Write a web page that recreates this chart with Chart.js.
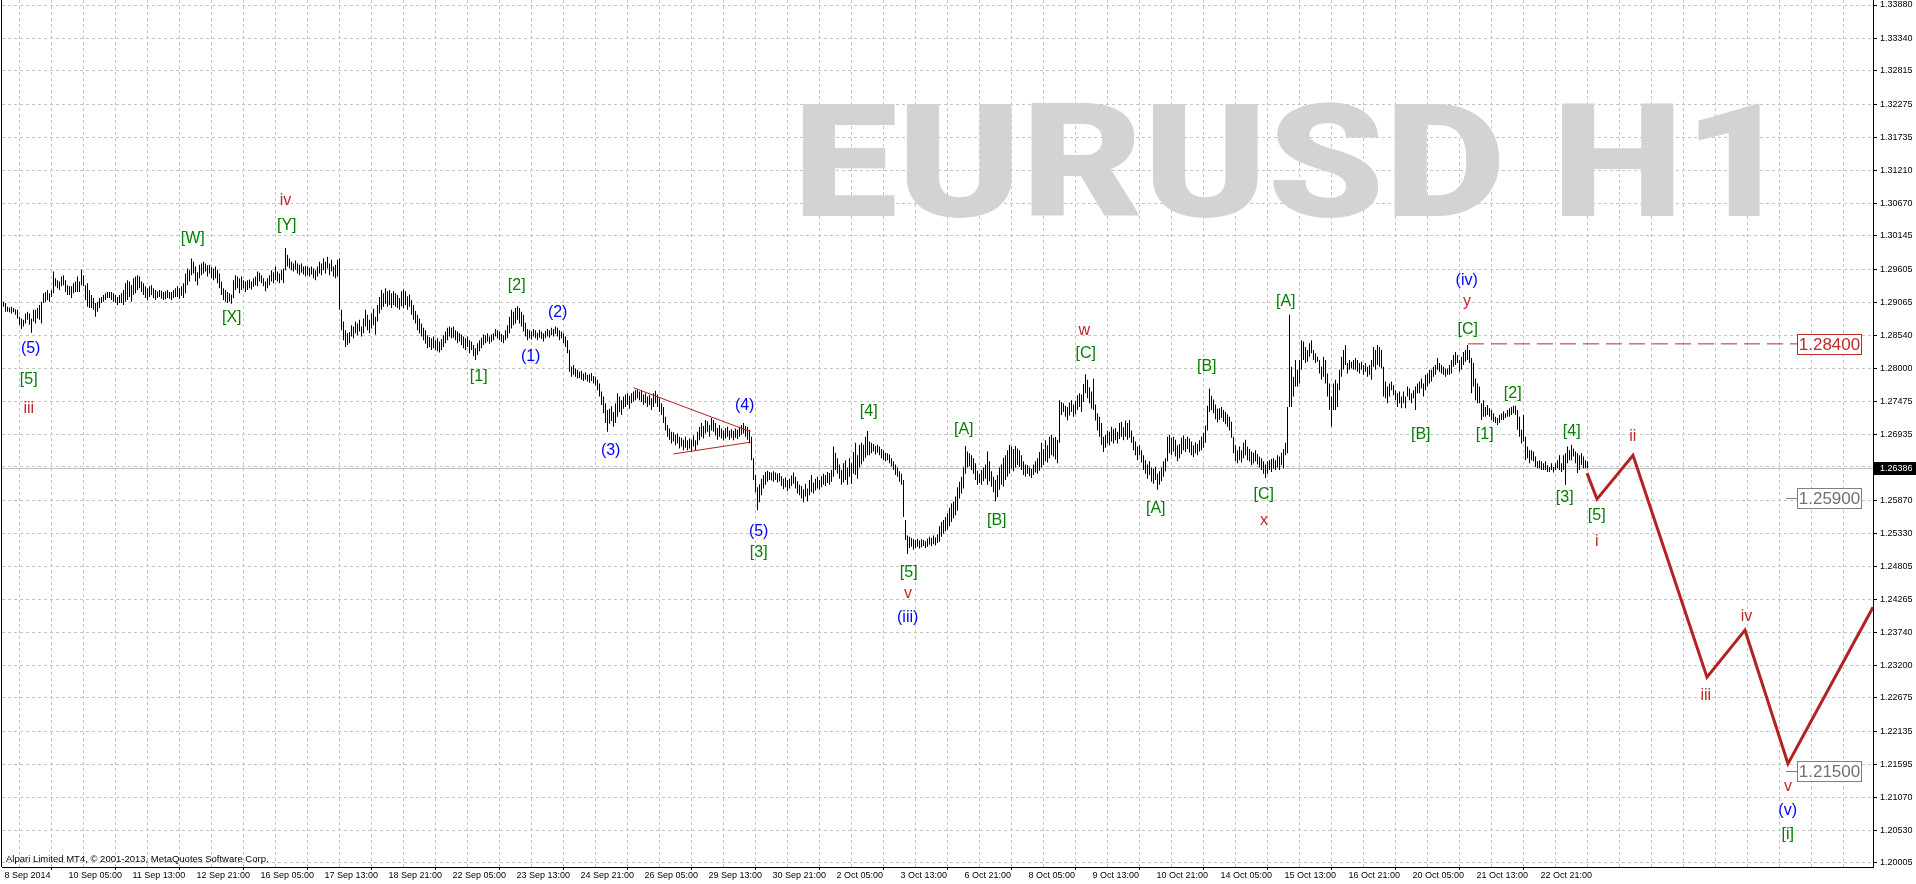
<!DOCTYPE html>
<html><head><meta charset="utf-8">
<script src="https://cdn.jsdelivr.net/npm/chart.js@4.4.1/dist/chart.umd.min.js"></script>
<style>html,body{margin:0;padding:0;background:#fff;overflow:hidden}canvas{display:block}</style>
</head><body>
<canvas id="c" width="1916" height="884"></canvas>
<script>
// ---------- DATA (EURUSD H1, prices in pips = price*10000) ----------
const barLowPips = [
12900,12892,12892,12891,12889,12891,12887,12881,12871,12864,
12868,12873,12879,12871,12858,12876,12873,12881,12879,12873,
12906,12908,12911,12908,12916,12922,12933,12930,12927,12933,
12935,12924,12919,12919,12914,12922,12924,12924,12924,12935,
12933,12911,12900,12898,12898,12895,12884,12892,12898,12906,
12908,12911,12914,12914,12911,12908,12906,12903,12906,12906,
12903,12908,12911,12916,12908,12919,12922,12927,12930,12924,
12919,12914,12911,12916,12919,12914,12911,12914,12916,12913,
12911,12912,12914,12913,12911,12914,12916,12916,12913,12918,
12914,12922,12935,12941,12951,12954,12941,12935,12946,12951,
12954,12957,12949,12954,12946,12943,12946,12938,12930,12919,
12911,12908,12906,12908,12905,12914,12927,12930,12922,12927,
12930,12924,12927,12930,12928,12932,12935,12933,12941,12938,
12933,12925,12930,12935,12941,12938,12943,12941,12938,12943,
12938,12959,12965,12962,12959,12957,12960,12954,12951,12955,
12952,12949,12951,12949,12952,12946,12943,12949,12954,12951,
12959,12954,12962,12951,12957,12949,12946,12949,12895,12862,
12846,12835,12838,12841,12852,12849,12857,12854,12860,12852,
12857,12868,12862,12857,12865,12870,12855,12876,12889,12895,
12900,12905,12900,12903,12898,12903,12900,12898,12895,12901,
12898,12903,12895,12900,12887,12879,12873,12862,12857,12852,
12846,12840,12833,12835,12830,12833,12830,12828,12826,12830,
12835,12841,12846,12852,12849,12850,12846,12841,12844,12838,
12833,12830,12835,12825,12830,12820,12814,12822,12828,12833,
12838,12841,12844,12840,12843,12846,12852,12849,12846,12843,
12841,12846,12849,12857,12865,12870,12873,12879,12873,12868,
12860,12852,12846,12849,12847,12852,12849,12846,12850,12848,
12844,12849,12852,12850,12854,12852,12856,12852,12846,12849,
12841,12835,12825,12795,12787,12790,12787,12784,12785,12782,
12780,12782,12779,12777,12780,12776,12773,12765,12755,12741,
12728,12712,12698,12711,12715,12706,12712,12722,12730,12725,
12735,12738,12741,12735,12744,12747,12749,12752,12749,12746,
12741,12744,12738,12741,12733,12738,12744,12738,12730,12725,
12712,12700,12690,12685,12679,12682,12676,12679,12671,12674,
12668,12672,12668,12671,12666,12674,12668,12676,12684,12690,
12687,12695,12698,12690,12700,12698,12692,12685,12690,12687,
12684,12687,12690,12685,12688,12684,12688,12686,12690,12693,
12695,12690,12685,12679,12652,12620,12600,12571,12584,12595,
12606,12612,12617,12620,12619,12617,12620,12616,12618,12610,
12605,12608,12602,12606,12610,12614,12606,12598,12595,12590,
12584,12593,12585,12595,12600,12598,12603,12606,12604,12608,
12612,12610,12615,12612,12617,12625,12636,12630,12622,12612,
12616,12620,12612,12625,12614,12630,12628,12622,12640,12645,
12650,12656,12660,12660,12663,12666,12661,12664,12660,12655,
12652,12650,12652,12647,12642,12636,12628,12625,12617,12612,
12560,12523,12500,12510,12512,12507,12510,12512,12509,12511,
12513,12510,12512,12515,12513,12516,12514,12518,12520,12528,
12533,12537,12540,12545,12552,12558,12563,12570,12590,12598,
12606,12630,12640,12642,12636,12630,12620,12612,12615,12612,
12618,12622,12612,12618,12609,12600,12585,12592,12604,12612,
12609,12620,12625,12630,12638,12634,12640,12644,12641,12636,
12628,12625,12630,12626,12623,12628,12632,12630,12635,12640,
12644,12650,12648,12655,12660,12658,12653,12647,12680,12725,
12730,12722,12716,12724,12730,12722,12726,12733,12738,12730,
12746,12760,12752,12744,12735,12733,12716,12700,12690,12677,
12665,12672,12679,12676,12682,12679,12684,12679,12686,12690,
12684,12690,12685,12688,12680,12668,12660,12652,12660,12648,
12636,12630,12622,12628,12617,12614,12620,12604,12612,12618,
12625,12634,12650,12663,12660,12666,12658,12650,12655,12662,
12668,12665,12670,12664,12660,12657,12663,12660,12666,12668,
12672,12680,12700,12730,12733,12728,12718,12713,12717,12720,
12714,12710,12706,12700,12688,12663,12650,12647,12652,12648,
12655,12660,12652,12650,12644,12647,12650,12645,12640,12636,
12630,12623,12630,12636,12633,12638,12636,12640,12636,12644,
12639,12660,12663,12738,12738,12755,12771,12771,12776,12798,
12814,12809,12811,12819,12825,12814,12809,12811,12792,12782,
12787,12776,12755,12733,12706,12733,12733,12738,12765,12787,
12798,12806,12792,12798,12800,12798,12798,12795,12792,12798,
12790,12795,12787,12790,12782,12803,12798,12806,12803,12800,
12755,12752,12744,12755,12765,12757,12749,12738,12744,12736,
12744,12736,12755,12749,12744,12752,12733,12760,12760,12768,
12755,12765,12771,12776,12779,12787,12790,12798,12795,12792,
12790,12787,12790,12790,12792,12803,12806,12809,12795,12798,
12806,12811,12814,12809,12760,12771,12749,12744,12744,12717,
12722,12722,12725,12722,12717,12714,12712,12709,12712,12717,
12717,12720,12722,12722,12725,12728,12725,12701,12690,12679,
12682,12652,12655,12647,12652,12650,12641,12639,12639,12636,
12636,12636,12633,12633,12636,12632,12636,12639,12636,12633,
12636,12612,12647,12652,12652,12658,12647,12631,12636,12644,
12639,12639,12639
];
const barHighPips = [
12908,12906,12900,12899,12900,12898,12896,12895,12884,12881,
12879,12889,12892,12889,12881,12895,12895,12898,12903,12908,
12922,12924,12927,12922,12927,12957,12946,12943,12941,12949,
12951,12943,12935,12933,12933,12938,12941,12949,12941,12960,
12951,12935,12938,12927,12919,12914,12906,12908,12914,12916,
12919,12922,12924,12924,12924,12922,12919,12916,12919,12922,
12927,12938,12943,12941,12935,12946,12949,12951,12949,12941,
12938,12933,12930,12933,12935,12930,12927,12925,12927,12926,
12924,12925,12927,12924,12924,12927,12930,12933,12930,12933,
12938,12954,12962,12959,12978,12973,12965,12956,12968,12970,
12973,12970,12967,12968,12964,12962,12965,12960,12954,12941,
12930,12927,12924,12922,12920,12943,12951,12949,12946,12949,
12943,12941,12943,12944,12941,12946,12949,12957,12955,12951,
12946,12941,12946,12951,12959,12956,12965,12957,12954,12960,
12962,12995,12984,12978,12973,12970,12975,12970,12968,12970,
12965,12966,12965,12963,12965,12962,12959,12965,12973,12970,
12978,12973,12981,12970,12976,12965,12968,12976,12978,12895,
12876,12862,12857,12859,12870,12868,12876,12873,12879,12868,
12881,12895,12887,12879,12889,12897,12884,12903,12916,12927,
12922,12930,12925,12927,12922,12925,12922,12919,12914,12925,
12928,12925,12917,12920,12911,12903,12893,12887,12881,12873,
12866,12862,12854,12851,12849,12852,12846,12849,12844,12848,
12854,12860,12866,12868,12866,12868,12862,12860,12857,12855,
12852,12849,12852,12846,12844,12838,12833,12841,12846,12850,
12855,12854,12857,12852,12855,12857,12864,12862,12860,12856,
12854,12862,12870,12884,12895,12892,12898,12901,12898,12892,
12887,12874,12864,12862,12860,12864,12862,12858,12863,12860,
12857,12861,12864,12862,12866,12864,12868,12866,12862,12860,
12857,12852,12846,12830,12803,12806,12800,12798,12795,12796,
12792,12794,12790,12791,12793,12788,12787,12782,12776,12763,
12755,12744,12733,12735,12739,12730,12744,12760,12755,12749,
12755,12758,12760,12756,12760,12763,12765,12767,12763,12765,
12758,12760,12755,12757,12752,12760,12764,12758,12752,12744,
12738,12722,12709,12703,12698,12697,12693,12695,12690,12688,
12685,12690,12684,12687,12685,12692,12684,12698,12706,12712,
12707,12717,12715,12709,12720,12717,12712,12704,12709,12703,
12700,12704,12706,12700,12702,12699,12703,12701,12706,12709,
12712,12707,12706,12701,12690,12655,12628,12608,12613,12622,
12628,12633,12635,12633,12632,12634,12632,12630,12631,12626,
12622,12624,12620,12622,12627,12632,12625,12618,12612,12610,
12605,12614,12606,12620,12628,12616,12622,12625,12620,12626,
12630,12628,12633,12631,12636,12674,12664,12655,12645,12636,
12647,12652,12640,12655,12647,12665,12680,12660,12677,12680,
12677,12690,12699,12682,12680,12678,12675,12677,12674,12670,
12668,12664,12663,12661,12655,12650,12645,12640,12634,12630,
12620,12555,12530,12528,12526,12524,12523,12525,12522,12524,
12523,12521,12525,12528,12526,12530,12527,12532,12545,12552,
12555,12560,12566,12575,12582,12585,12593,12608,12617,12625,
12640,12675,12666,12663,12660,12655,12647,12635,12630,12636,
12640,12645,12666,12650,12634,12625,12620,12628,12640,12645,
12656,12660,12668,12677,12674,12670,12675,12671,12668,12660,
12650,12645,12644,12640,12638,12645,12650,12655,12665,12680,
12670,12684,12676,12690,12693,12688,12690,12685,12749,12746,
12744,12740,12738,12745,12749,12742,12748,12757,12760,12758,
12775,12791,12782,12770,12763,12784,12742,12728,12722,12712,
12690,12693,12700,12698,12706,12702,12704,12698,12712,12714,
12705,12716,12712,12717,12700,12690,12682,12674,12676,12668,
12660,12652,12645,12650,12640,12638,12641,12630,12634,12640,
12650,12655,12690,12693,12688,12690,12685,12676,12678,12688,
12692,12686,12690,12687,12682,12676,12681,12678,12684,12690,
12696,12708,12740,12768,12756,12750,12742,12735,12736,12738,
12733,12730,12726,12722,12714,12690,12676,12668,12674,12668,
12680,12685,12674,12670,12666,12664,12668,12662,12658,12655,
12650,12645,12650,12652,12654,12655,12652,12660,12658,12664,
12670,12680,12738,12887,12803,12787,12814,12798,12814,12846,
12844,12835,12830,12841,12846,12830,12825,12819,12814,12803,
12819,12814,12792,12776,12755,12776,12782,12776,12798,12819,
12830,12838,12809,12814,12811,12814,12817,12814,12809,12811,
12806,12809,12803,12806,12814,12835,12830,12838,12835,12830,
12803,12779,12771,12776,12779,12773,12765,12760,12763,12755,
12763,12755,12771,12768,12760,12765,12771,12776,12779,12784,
12776,12790,12792,12798,12798,12803,12806,12817,12809,12806,
12803,12800,12800,12806,12814,12822,12827,12822,12814,12819,
12827,12830,12838,12830,12817,12809,12784,12776,12771,12744,
12749,12738,12741,12736,12733,12728,12722,12720,12725,12728,
12731,12728,12733,12736,12738,12740,12740,12733,12722,12701,
12725,12690,12674,12668,12668,12666,12658,12650,12652,12650,
12647,12650,12644,12641,12647,12641,12647,12652,12660,12647,
12660,12663,12674,12668,12677,12671,12666,12663,12660,12663,
12658,12652,12650
];
const xTickLabels = ['8 Sep 2014','10 Sep 05:00','11 Sep 13:00','12 Sep 21:00','16 Sep 05:00','17 Sep 13:00','18 Sep 21:00','22 Sep 05:00','23 Sep 13:00','24 Sep 21:00','26 Sep 05:00','29 Sep 13:00','30 Sep 21:00','2 Oct 05:00','3 Oct 13:00','6 Oct 21:00','8 Oct 05:00','9 Oct 13:00','10 Oct 21:00','14 Oct 05:00','15 Oct 13:00','16 Oct 21:00','20 Oct 05:00','21 Oct 13:00','22 Oct 21:00'];
const yTickValues = [1.33880,1.33340,1.32815,1.32275,1.31735,1.31210,1.30670,1.30145,1.29605,1.29065,1.28540,1.28000,1.27475,1.26935,1.26410,1.25870,1.25330,1.24805,1.24265,1.23740,1.23200,1.22675,1.22135,1.21595,1.21070,1.20530,1.20005];
const lastPrice = 1.26386;
// projected wave path (bar index, price)
const projBars   = [791.75, 796.75, 814.75, 851.75, 870.75, 892.25, 934.75];
const projPrices = [1.2631, 1.2589, 1.2660, 1.2301, 1.2377, 1.2161, 1.2414];
// triangle trend lines
const triUpperBars = [315, 373.5], triUpperPrices = [1.2769, 1.2698];
const triLowerBars = [335, 373.5], triLowerPrices = [1.2662, 1.2681];
// target level line
const targetBars = [732.25, 896.75], targetPrices = [1.28400, 1.28400];
// price boxes
const boxPrices = [1.28400, 1.25900, 1.21500];
const boxKinds  = ['r', 'g', 'g'];
// wave labels
const waveText  = ['(5)','[5]','iii','[W]','[X]','[Y]','iv','[1]','[2]','(1)','(2)','(3)','(4)','(5)','[3]','[4]','[5]','v','(iii)','[A]','[B]','w','[C]','[B]','[A]','[C]','x','[A]','(iv)','y','[C]','[B]','[1]','[2]','[3]','[4]','[5]','i','ii','iii','iv','v','(v)','[i]'];
const waveBar   = [13.75,12.75,12.75,94.75,114.25,141.75,141.25,237.75,256.75,263.75,277.25,303.75,370.75,377.75,377.75,432.75,452.75,452.25,452.25,480.25,496.75,540.25,541.25,601.75,576.25,630.25,630.25,641.25,731.75,731.75,732.25,708.75,740.75,754.75,780.75,784.25,796.75,796.75,814.75,851.25,871.75,892.25,892.25,892.25];
const wavePrice = [1.2833,1.2783,1.2738,1.3011,1.2882,1.3031,1.3074,1.2788,1.2934,1.2819,1.2890,1.2668,1.2740,1.2537,1.2503,1.2730,1.2471,1.2437,1.2398,1.2701,1.2555,1.2861,1.2824,1.2803,1.2573,1.2596,1.2554,1.2909,1.2943,1.2906,1.2864,1.2693,1.2693,1.2759,1.2592,1.2698,1.2563,1.2523,1.2693,1.2274,1.2402,1.2125,1.2086,1.2046];
const waveKind  = ['b','g','r','g','g','g','r','g','g','b','b','b','b','b','g','g','g','r','b','g','g','r','g','g','g','g','r','g','b','r','g','g','g','g','g','g','g','r','r','r','r','r','b','g'];

// ---------- STYLE ----------
const FONT = '"Liberation Sans", Arial, sans-serif';
const COLORS = {g: '#008000', b: '#0000FF', r: '#C0282D'};
const GRID = '#C4C4C4';
const LAYOUT = {left: 2, yAxisW: 43, xAxisH: 17};
const BOX = {anchorBar: 896.75, w: 65, h: 21, leader: 11, font: '17px ' + FONT,
  stroke: {r: '#C0282D', g: '#808080'}, text: {r: '#C0282D', g: '#707070'}};
const WATERMARK = {text: 'EURUSD H1', font: '900 200px Roboto, "Liberation Sans", sans-serif',
  left: 802, right: 1760, top: 101, bottom: 216, color: '#D3D3D3'};

const n = Math.min(barLowPips.length, barHighPips.length);
const bars = [];
for (let i = 0; i < n; i++) bars.push({x: i, y: [barLowPips[i] / 10000, barHighPips[i] / 10000]});
const pts = (bx, py) => bx.map((b, i) => ({x: b, y: py[i]}));

const decor = {
  id: 'decor',
  beforeDatasetsDraw(chart) {
    const {ctx, chartArea: a, scales: {x, y}} = chart;
    // watermark
    ctx.save();
    ctx.font = WATERMARK.font;
    const m = ctx.measureText(WATERMARK.text);
    const inkW = m.actualBoundingBoxLeft + m.actualBoundingBoxRight;
    const inkH = m.actualBoundingBoxAscent;
    ctx.translate(WATERMARK.left, WATERMARK.bottom);
    ctx.scale((WATERMARK.right - WATERMARK.left) / inkW, (WATERMARK.bottom - WATERMARK.top) / inkH);
    ctx.fillStyle = WATERMARK.color;
    ctx.textAlign = 'left'; ctx.textBaseline = 'alphabetic';
    ctx.fillText(WATERMARK.text, m.actualBoundingBoxLeft, 0);
    ctx.restore();
    // bid line
    ctx.save();
    const py = Math.round(y.getPixelForValue(lastPrice)) + 0.5;
    ctx.strokeStyle = '#C0C0C0'; ctx.lineWidth = 1;
    ctx.beginPath(); ctx.moveTo(a.left, py); ctx.lineTo(a.right, py); ctx.stroke();
    // copyright
    ctx.font = '9.5px ' + FONT; ctx.fillStyle = '#000';
    ctx.textAlign = 'left'; ctx.textBaseline = 'alphabetic';
    ctx.fillText('Alpari Limited MT4, \u00A9 2001-2013, MetaQuotes Software Corp.', a.left + 4, a.bottom - 5);
    ctx.restore();
  },
  afterDatasetsDraw(chart) {
    const {ctx, chartArea: a, scales: {x, y}} = chart;
    ctx.save();
    // wave labels, ink-centred on their anchors
    ctx.font = '16px ' + FONT; ctx.textAlign = 'left'; ctx.textBaseline = 'alphabetic';
    waveText.forEach((t, i) => {
      const m = ctx.measureText(t);
      const cx = x.getPixelForValue(waveBar[i]), cy = y.getPixelForValue(wavePrice[i]);
      ctx.fillStyle = COLORS[waveKind[i]];
      ctx.fillText(t, cx - (m.actualBoundingBoxRight - m.actualBoundingBoxLeft) / 2,
        cy + (m.actualBoundingBoxAscent - m.actualBoundingBoxDescent) / 2);
    });
    // price boxes
    boxPrices.forEach((v, i) => {
      const k = boxKinds[i];
      const py = Math.round(y.getPixelForValue(v));
      const bx = Math.round(x.getPixelForValue(BOX.anchorBar));
      ctx.lineWidth = 1; ctx.strokeStyle = BOX.stroke[k];
      if (k !== 'r') { ctx.beginPath(); ctx.moveTo(bx - BOX.leader, py + 0.5); ctx.lineTo(bx, py + 0.5); ctx.stroke(); }
      const top = py - Math.floor(BOX.h / 2);
      ctx.fillStyle = '#fff'; ctx.fillRect(bx, top, BOX.w, BOX.h);
      ctx.strokeRect(bx + 0.5, top + 0.5, BOX.w - 1, BOX.h - 1);
      ctx.font = BOX.font; ctx.fillStyle = BOX.text[k]; ctx.textAlign = 'center'; ctx.textBaseline = 'middle';
      ctx.fillText(v.toFixed(5), bx + BOX.w / 2, py + 1);
    });
    // left frame line
    ctx.fillStyle = '#000'; ctx.fillRect(a.left - 1, a.top, 1, a.bottom - a.top);
    ctx.restore();
  },
  afterDraw(chart) {
    const {ctx, chartArea: a, scales: {y}} = chart;
    ctx.save();
    const py = Math.round(y.getPixelForValue(lastPrice));
    ctx.fillStyle = '#000'; ctx.fillRect(a.right + 1, py - 6, chart.width - a.right - 1, 13);
    ctx.fillStyle = '#fff'; ctx.font = '9px ' + FONT; ctx.textAlign = 'left'; ctx.textBaseline = 'middle';
    ctx.fillText(lastPrice.toFixed(5), a.right + 7, py + 0.5);
    ctx.restore();
  }
};

Chart.defaults.font.family = FONT;
new Chart(document.getElementById('c'), {
  type: 'bar',
  data: {
    datasets: [
      {type: 'line', data: pts(projBars, projPrices), borderColor: '#B22222', borderWidth: 3, pointRadius: 0, tension: 0, borderJoinStyle: 'miter'},
      {type: 'line', data: pts(targetBars, targetPrices), borderColor: '#C0282D', borderWidth: 1, borderDash: [16, 7], pointRadius: 0},
      {type: 'line', data: pts(triUpperBars, triUpperPrices), borderColor: '#B22222', borderWidth: 1, pointRadius: 0},
      {type: 'line', data: pts(triLowerBars, triLowerPrices), borderColor: '#B22222', borderWidth: 1, pointRadius: 0},
      {type: 'bar', data: bars, backgroundColor: '#000', borderWidth: 0, barThickness: 1, inflateAmount: 0, grouped: false}
    ]
  },
  options: {
    responsive: false, animation: false, events: [],
    layout: {padding: {left: LAYOUT.left, top: 0, right: 0, bottom: 0}},
    plugins: {legend: {display: false}, tooltip: {enabled: false}},
    scales: {
      x: {
        type: 'linear', position: 'bottom', min: -0.75, max: 934.75, offset: false,
        afterBuildTicks: s => { const t = []; for (let v = 0; v <= 928; v += 16) t.push({value: v}); s.ticks = t; },
        afterFit: s => { s.height = LAYOUT.xAxisH; s.paddingLeft = 0; s.paddingRight = 0; },
        ticks: {
          autoSkip: false, maxRotation: 0, minRotation: 0, align: 'start', padding: 0, labelOffset: 1,
          color: '#000', font: {size: 9, family: FONT},
          callback: v => (v % 32 === 0 && v / 32 < xTickLabels.length) ? xTickLabels[v / 32] : ''
        },
        grid: {
          color: c => (c.tick && c.tick.value > 0) ? GRID : 'rgba(0,0,0,0)',
          tickColor: c => (c.tick && c.tick.value % 32 === 0 && c.tick.value / 32 < xTickLabels.length) ? '#000' : 'rgba(0,0,0,0)',
          tickLength: 3, lineWidth: 1
        },
        border: {display: true, color: '#000', width: 1, dash: [3, 3]}
      },
      y: {
        type: 'linear', position: 'right', min: 1.199403, max: 1.339609, bounds: 'data',
        afterBuildTicks: s => { s.ticks = yTickValues.map(v => ({value: v})); },
        afterFit: s => { s.width = LAYOUT.yAxisW; s.paddingTop = 0; s.paddingBottom = 0; },
        ticks: {autoSkip: false, padding: 3, color: '#000', font: {size: 9, family: FONT}, callback: v => Number(v).toFixed(5)},
        grid: {color: GRID, tickColor: '#000', tickLength: 4, lineWidth: 1},
        border: {display: true, color: '#000', width: 1, dash: [3, 3]}
      }
    }
  },
  plugins: [decor]
});
</script>
</body></html>
